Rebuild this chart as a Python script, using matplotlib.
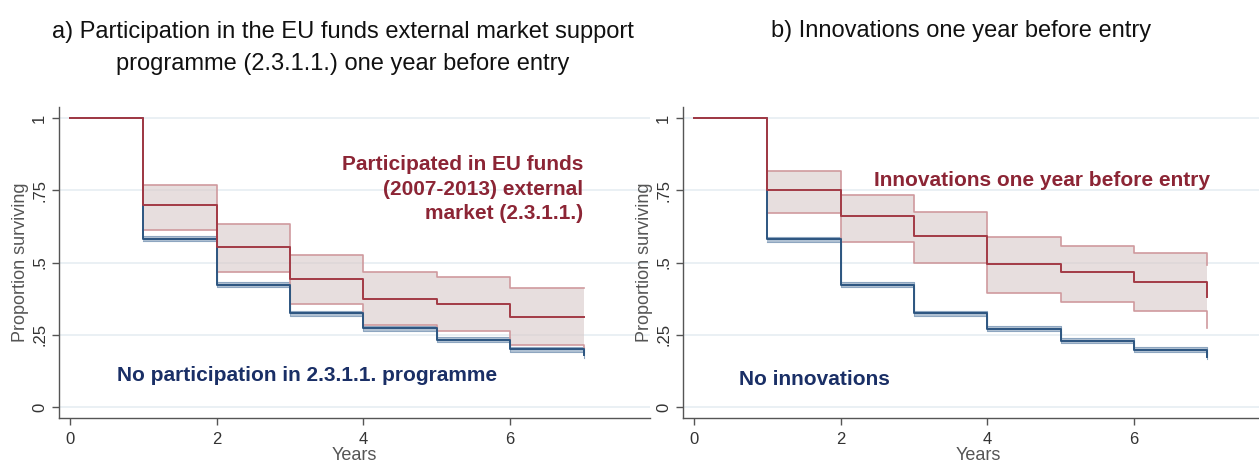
import matplotlib
matplotlib.use("Agg")
import matplotlib.pyplot as plt
import numpy as np

plt.rcParams['font.family'] = ['Liberation Sans Narrow', 'Liberation Sans', 'DejaVu Sans']

years = [0, 1, 2, 3, 4, 5, 6, 7]
ci_years = [1, 2, 3, 4, 5, 6, 7]

# panel a) participation in 2.3.1.1.
a_part = [1, 0.699, 0.555, 0.443, 0.374, 0.356, 0.310, 0.310]
a_part_hi = [0.768, 0.632, 0.528, 0.466, 0.449, 0.412, 0.412]
a_part_lo = [0.612, 0.467, 0.356, 0.283, 0.264, 0.215, 0.205]
a_none = [1, 0.583, 0.424, 0.324, 0.273, 0.233, 0.200, 0.180]

# panel b) innovations
b_inno = [1, 0.751, 0.662, 0.592, 0.495, 0.466, 0.433, 0.382]
b_inno_hi = [0.817, 0.734, 0.674, 0.587, 0.559, 0.532, 0.491]
b_inno_lo = [0.670, 0.573, 0.497, 0.396, 0.364, 0.331, 0.272]
b_none = [1, 0.580, 0.423, 0.324, 0.271, 0.229, 0.198, 0.174]

none_ci = 0.009

yticks = [0, 0.25, 0.5, 0.75, 1]
ytick_labels = ["0", ".25", ".5", ".75", "1"]
xticks = [0, 2, 4, 6]

red = '#a33a45'
red_txt = '#8c2535'
blue = '#2c5580'
blue_txt = '#1a2f66'
gray = '#555555'

fig = plt.figure(figsize=(12.59, 4.66), dpi=100)
ax1 = fig.add_axes([0.0469, 0.103, 0.469, 0.667])
ax2 = fig.add_axes([0.5425, 0.103, 0.469, 0.667])


def draw(ax, grp, hi, lo, none):
    ax.set_xlim(-0.15, 7.9)
    ax.set_ylim(-0.038, 1.038)
    for y in yticks:
        ax.axhline(y, color='#e6eef2', lw=1.2, zorder=0)
    nb = np.array(none[1:])
    # no group band
    ax.fill_between(ci_years, nb - none_ci, nb + none_ci, step='post',
                    color='#9db2c9', alpha=0.8, lw=0, zorder=1)
    ax.step(ci_years, nb - none_ci, where='post', color='#8ea6c0', lw=0.8, zorder=1)
    ax.step(ci_years, nb + none_ci, where='post', color='#8ea6c0', lw=0.8, zorder=1)
    ax.step(years, none, where='post', color=blue, lw=1.4, zorder=3)
    # group band
    ax.fill_between(ci_years, lo, hi, step='post', color='#d8c8c8', alpha=0.6,
                    lw=0, zorder=2)
    ax.step(ci_years, hi, where='post', color='#cf9a9e', lw=1.2, zorder=2)
    ax.step(ci_years, lo, where='post', color='#cf9a9e', lw=1.2, zorder=2)
    ax.step(years, grp, where='post', color=red, lw=1.4, zorder=4)

    for s in ['top', 'right']:
        ax.spines[s].set_visible(False)
    for s in ['left', 'bottom']:
        ax.spines[s].set_color(gray)
        ax.spines[s].set_linewidth(1.0)
    ax.set_yticks(yticks)
    ax.set_yticklabels(ytick_labels, rotation=90, va='center')
    ax.set_xticks(xticks)
    ax.tick_params(colors=gray, labelcolor='#333333', labelsize=12, length=5, width=1)
    ax.tick_params(axis='x', pad=5)
    ax.set_xlabel("Years", color=gray, fontsize=13, labelpad=0)
    ax.set_ylabel("Proportion surviving", color=gray, fontsize=13, labelpad=2)


draw(ax1, a_part, a_part_hi, a_part_lo, a_none)
draw(ax2, b_inno, b_inno_hi, b_inno_lo, b_none)

ax1.text(7.0, 0.754, "Participated in EU funds\n(2007-2013) external\nmarket (2.3.1.1.)",
         color=red_txt, fontsize=15, fontweight='bold', ha='right', va='center',
         linespacing=1.38)
ax1.text(0.64, 0.11, "No participation in 2.3.1.1. programme", color=blue_txt,
         fontsize=15, fontweight='bold', ha='left', va='center')
ax2.text(2.45, 0.785, "Innovations one year before entry", color=red_txt,
         fontsize=15, fontweight='bold', ha='left', va='center')
ax2.text(0.61, 0.097, "No innovations", color=blue_txt,
         fontsize=15, fontweight='bold', ha='left', va='center')

fig.text(0.272, 0.897, "a) Participation in the EU funds external market support\nprogramme (2.3.1.1.) one year before entry",
         ha='center', va='center', fontsize=17, color='#111111', linespacing=1.6)
fig.text(0.763, 0.933, "b) Innovations one year before entry", ha='center', va='center',
         fontsize=17, color='#111111')

fig.savefig("out.png", dpi=100)
